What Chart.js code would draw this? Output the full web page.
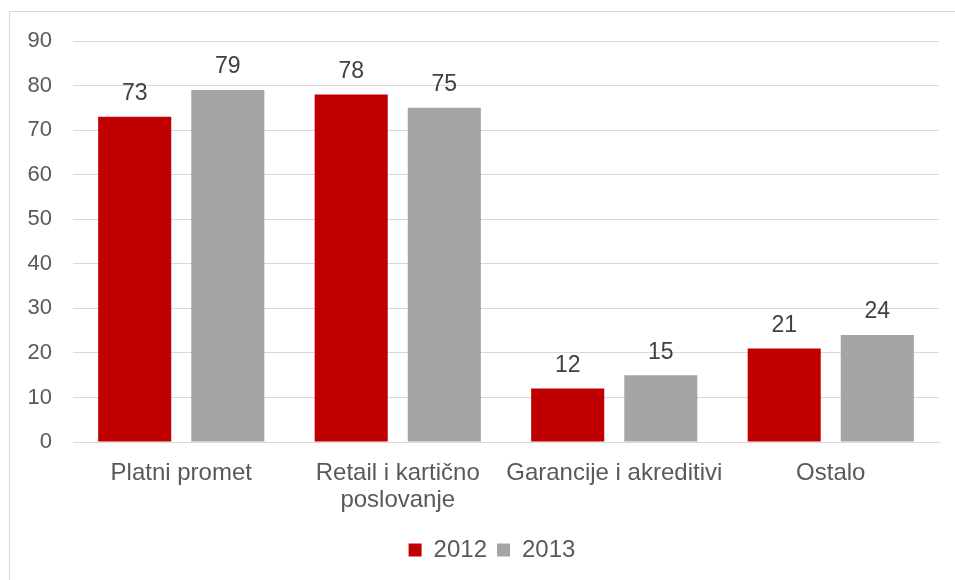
<!DOCTYPE html>
<html>
<head>
<meta charset="utf-8">
<script src="https://cdn.jsdelivr.net/npm/chart.js@4.4.1/dist/chart.umd.min.js"></script>
<style>
  html, body { margin: 0; padding: 0; background: #fff; }
  #wrap { position: relative; width: 955px; height: 580px; overflow: hidden; }
  #frame { position: absolute; left: 9px; top: 11px; width: 960px; height: 600px;
           border-left: 1px solid #d9d9d9; border-top: 1px solid #d9d9d9; }
  canvas { position: absolute; left: 0; top: 0; }
</style>
</head>
<body>
<div id="wrap">
  <div id="frame"></div>
  <canvas id="chart" width="955" height="580"></canvas>
</div>
<script>
/* ── Data ─────────────────────────────────────────────── */
const categories = ['Platni promet', ['Retail i kartično', 'poslovanje'], 'Garancije i akreditivi', 'Ostalo'];
const series2012 = [73, 78, 12, 21];
const series2013 = [79, 75, 15, 24];
const yTicks = [0, 10, 20, 30, 40, 50, 60, 70, 80, 90];

const FONT = "'Liberation Sans', Arial, sans-serif";

/* ── Value labels above the bars ──────────────────────── */
const valueLabels = {
  id: 'valueLabels',
  afterDatasetsDraw(chart) {
    const ctx = chart.ctx;
    ctx.save();
    ctx.font = `23px ${FONT}`;
    ctx.fillStyle = '#404040';
    ctx.textAlign = 'center';
    ctx.textBaseline = 'middle';
    chart.data.datasets.forEach((ds, i) => {
      chart.getDatasetMeta(i).data.forEach((bar, j) => {
        ctx.fillText(String(ds.data[j]), bar.x, bar.y - 23);
      });
    });
    ctx.restore();
  }
};

// legend sits a bit right of the canvas centre, as in the original
const legendShift = {
  id: 'legendShift',
  afterLayout(chart) {
    if (chart.legend) chart.legend.left = 45;
  }
};

new Chart(document.getElementById('chart'), {
  type: 'bar',
  data: {
    labels: categories,
    datasets: [
      { label: '2012', data: series2012, backgroundColor: '#C00000',
        categoryPercentage: 0.86, barPercentage: 0.785 },
      { label: '2013', data: series2013, backgroundColor: '#A5A5A5',
        categoryPercentage: 0.86, barPercentage: 0.785 },
    ],
  },
  options: {
    responsive: false,
    animation: false,
    layout: { padding: { left: 0, right: 16, top: 41, bottom: 8 } },
    plugins: {
      tooltip: { enabled: false },
      legend: {
        position: 'bottom',
        labels: {
          color: '#595959',
          font: { family: FONT, size: 24 },
          boxWidth: 13,
          boxHeight: 13,
          padding: 10,
        },
      },
    },
    scales: {
      x: {
        afterFit(scale) { scale.height = 86; },
        grid: { display: false },
        border: { color: '#d9d9d9', width: 1 },
        ticks: {
          color: '#595959',
          font: { family: FONT, size: 24, lineHeight: 1.125 },
          padding: 10,
          maxRotation: 0,
          autoSkip: false,
        },
      },
      y: {
        min: 0,
        max: 90,
        afterFit(scale) { scale.width = 73; },
        afterBuildTicks(scale) { scale.ticks = yTicks.map(v => ({ value: v })); },
        grid: { color: '#d9d9d9', drawTicks: false },
        border: { display: false },
        ticks: {
          color: '#595959',
          font: { family: FONT, size: 22 },
          padding: 21,
        },
      },
    },
  },
  plugins: [valueLabels, legendShift],
});
</script>
</body>
</html>
